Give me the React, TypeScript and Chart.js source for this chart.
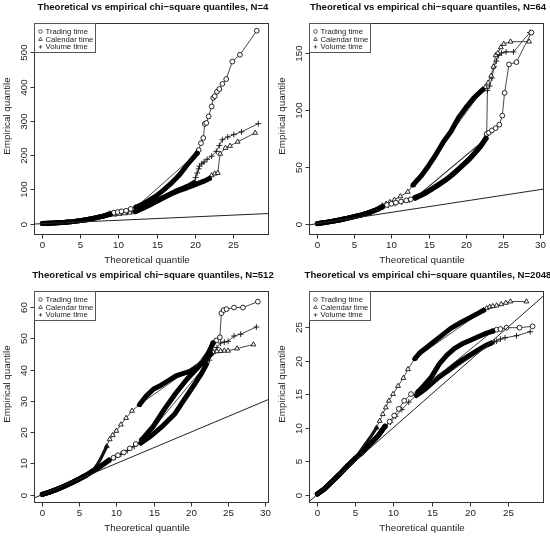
import React, { useEffect, useRef } from 'react';
import { Chart, registerables } from 'chart.js';

Chart.register(...registerables);

type Pt = [number, number];

const FONT = '"Liberation Sans", Arial, Helvetica, sans-serif';
const LEGEND_LABELS = ['Trading time', 'Calendar time', 'Volume time'];
const X_LABEL = 'Theoretical quantile';
const Y_LABEL = 'Empirical quantile';
const TITLE_PREFIX = 'Theoretical vs empirical chi\u2212square quantiles, N=';
const N_VALUES = [4, 64, 512, 2048];
const REF_LINE: Pt[] = [[-5, -5], [1000, 1000]];

// ---------- N = 4 ----------
const N4_X_RANGE: Pt = [-1.05, 29.7];
const N4_Y_RANGE: Pt = [-33, 585.6];
const N4_X_TICKS = [0, 5, 10, 15, 20, 25];
const N4_Y_TICKS = [0, 100, 200, 300, 400, 500];
const N4_BAND_A: Pt[] = [[0.05, 0.3], [1, 1.2], [2, 2.5], [3, 4], [4, 6], [5, 9], [6, 12.5], [7, 17], [8, 22], [8.9, 28]];
const N4_TRADING_BAND_B: Pt[] = [[12.3, 48], [13, 55], [14, 68], [15, 82], [16, 100], [17, 120], [18, 143], [19, 172], [19.8, 193], [20.3, 206]];
const N4_TRADING_MARKS: Pt[] = [[8.9, 30], [9.4, 32], [9.9, 34], [10.4, 36], [11.0, 38], [11.6, 43], [12.3, 48], [20.3, 206], [20.5, 215], [20.8, 235], [21.1, 250], [21.3, 291], [21.5, 294], [21.8, 313], [22.2, 342], [22.4, 367], [22.6, 372], [22.9, 385], [23.2, 393], [23.6, 408], [24.1, 422], [24.9, 473], [25.9, 493], [28.1, 563]];
const N4_CALENDAR_BAND_B: Pt[] = [[12.2, 35], [13.2, 45], [14.3, 57], [15.4, 70], [16.3, 80], [17.2, 90], [18, 97], [18.9, 104], [19.8, 112], [20.6, 119], [21.3, 125], [21.9, 132]];
const N4_CALENDAR_MARKS: Pt[] = [[8.9, 26], [9.5, 27], [10.1, 28.5], [10.8, 30], [11.5, 32], [12.2, 35], [21.9, 132], [22.2, 141], [22.6, 146], [23.0, 148], [23.3, 204], [24.0, 221], [24.6, 227], [25.6, 239], [27.9, 265]];
const N4_VOLUME_BAND_B: Pt[] = [[12.3, 38], [13.3, 47], [14.5, 60], [15.5, 72], [16.5, 84], [17.5, 95], [18.5, 104], [19.4, 113], [19.9, 120]];
const N4_VOLUME_MARKS: Pt[] = [[8.9, 27], [9.6, 28.5], [10.4, 31], [11.2, 33.5], [12.3, 38], [19.9, 120], [20.1, 135], [20.3, 148], [20.5, 160], [20.6, 168], [20.9, 175], [21.2, 180], [21.6, 188], [22.2, 197], [22.8, 211], [23.2, 228], [23.6, 245], [24.3, 253], [25.1, 260], [26.1, 268], [28.3, 292]];

// ---------- N = 64 ----------
const N64_X_RANGE: Pt = [-1.07, 30.5];
const N64_Y_RANGE: Pt = [-9.9, 176.4];
const N64_X_TICKS = [0, 5, 10, 15, 20, 25, 30];
const N64_Y_TICKS = [0, 50, 100, 150];
const N64_BAND_A: Pt[] = [[0.05, 0.1], [1, 1], [2, 2.1], [3, 3.3], [4, 4.7], [5, 6.2], [6, 7.8], [7, 9.8], [8, 12.3], [8.8, 15]];
const N64_CALENDAR_BAND_B: Pt[] = [[12.9, 34], [14, 42], [15, 51], [16, 61], [17, 72], [18, 81], [19, 93], [20, 102], [21, 110], [21.8, 115], [22.3, 118]];
const N64_CALENDAR_MARKS: Pt[] = [[8.8, 16], [9.3, 17.5], [9.8, 19], [10.4, 21], [11.2, 24], [12.2, 28], [12.9, 34], [22.3, 118], [22.6, 120], [23, 124], [23.4, 130], [23.7, 138], [24, 148], [24.3, 150], [24.7, 155], [25.1, 158], [26.0, 160], [28.5, 160]];
const N64_TRADING_BAND_B: Pt[] = [[13.2, 23], [14.2, 26], [15.2, 29.5], [16.2, 33.5], [17.2, 38], [18.2, 43], [19.2, 49], [20.2, 55], [21.2, 62], [22.0, 68], [22.7, 75]];
const N64_TRADING_MARKS: Pt[] = [[8.8, 15], [9.4, 16.5], [10, 17.5], [10.6, 18.5], [11.3, 19.5], [12.0, 20.5], [12.6, 21.5], [13.2, 23], [22.7, 75], [22.8, 79], [23.1, 80], [23.5, 82], [24.0, 84], [24.5, 87], [24.9, 95], [25.2, 115], [25.8, 140], [26.8, 142], [28.8, 168]];
const N64_VOLUME_BAND_B: Pt[] = [[13.2, 22.5], [14.5, 26.5], [16, 33], [17.5, 39.5], [19, 48], [20.5, 57], [21.7, 66], [22.6, 74]];
const N64_VOLUME_MARKS: Pt[] = [[8.8, 14.8], [9.6, 16.2], [10.5, 17.8], [11.4, 19.2], [12.4, 20.8], [13.2, 22.5], [22.6, 74], [22.8, 78], [22.9, 117], [23.2, 121], [23.5, 128], [23.8, 138], [24.1, 143], [24.4, 148], [24.8, 150], [25.4, 151], [26.4, 151], [28.6, 168]];

// ---------- N = 512 ----------
const N512_X_RANGE: Pt = [-1.07, 30.5];
const N512_Y_RANGE: Pt = [-2.65, 65.1];
const N512_X_TICKS = [0, 5, 10, 15, 20, 25, 30];
const N512_Y_TICKS = [0, 10, 20, 30, 40, 50, 60];
const N512_BAND_A: Pt[] = [[0.05, 0.1], [1, 0.8], [2, 1.7], [3, 2.7], [4, 3.8], [5, 5], [6, 6.3], [6.8, 7.5]];
const N512_CALENDAR_BAND_A2: Pt[] = [[6.8, 7.5], [7.4, 9.5], [8, 12], [8.7, 15.5]];
const N512_CALENDAR_BAND_B: Pt[] = [[13.1, 28.8], [14, 31.5], [15, 33.8], [16, 35], [17, 36.5], [18, 38], [19, 38.8], [20, 39.5], [21, 41], [22, 43], [22.7, 45]];
const N512_CALENDAR_MARKS: Pt[] = [[8.7, 15.5], [9.1, 17.7], [9.5, 19], [10, 20.4], [10.6, 22.4], [11.3, 24.5], [12.1, 26.8], [13.1, 28.8], [22.7, 45], [23.0, 45.5], [23.5, 45.8], [24.0, 45.9], [24.5, 46], [25.0, 46], [26.2, 46.7], [28.4, 48]];
const N512_LOWER_BAND_A2: Pt[] = [[6.8, 7.5], [7.5, 8.5], [8.3, 9.8], [9, 11]];
const N512_TRADING_BAND_B: Pt[] = [[13.4, 17.5], [15, 22], [16.5, 27.5], [18, 32.5], [19.5, 37], [20.5, 39.5], [21.5, 42], [22.3, 45], [23, 48.5]];
const N512_TRADING_MARKS: Pt[] = [[9, 11], [9.6, 11.8], [10.2, 12.6], [11, 13.5], [11.8, 14.8], [12.6, 16.2], [13.4, 17.5], [23, 48.5], [23.4, 49.3], [23.9, 50.3], [24.1, 58], [24.4, 59], [24.8, 59.3], [25.8, 59.8], [27, 59.8], [29, 61.7]];
const N512_VOLUME_BAND_B: Pt[] = [[13.3, 16.5], [14.5, 18.5], [16, 21.5], [17.8, 25.7], [19, 30], [20.5, 35.3], [21.5, 39], [22.1, 41.7]];
const N512_VOLUME_MARKS: Pt[] = [[9, 11], [9.8, 11.9], [10.6, 12.9], [11.5, 14.2], [12.4, 15.4], [13.3, 16.5], [22.1, 41.7], [22.5, 43], [23, 45.5], [23.5, 47], [24, 48.5], [24.5, 48.8], [25, 49], [25.8, 50.7], [26.7, 51.3], [28.8, 53.6]];

// ---------- N = 2048 ----------
const N2048_X_RANGE: Pt = [-1.05, 29.7];
const N2048_Y_RANGE: Pt = [-1.24, 30.37];
const N2048_X_TICKS = [0, 5, 10, 15, 20, 25];
const N2048_Y_TICKS = [0, 5, 10, 15, 20, 25];
const N2048_BAND_A: Pt[] = [[0.05, 0.1], [1, 0.9], [2, 2], [3, 3.1], [4, 4.3], [5, 5.4]];
const N2048_CALENDAR_BAND_A2: Pt[] = [[5, 5.4], [6, 7], [7, 8.6], [7.8, 10]];
const N2048_CALENDAR_BAND_B: Pt[] = [[12.8, 20.3], [13.5, 21.2], [14.5, 22.1], [15.5, 23], [16.5, 23.9], [17.5, 24.8], [18.7, 25.6], [20, 26.4], [21, 27], [21.8, 27.5]];
const N2048_CALENDAR_MARKS: Pt[] = [[7.8, 10], [8.2, 11], [8.6, 12], [9, 13], [9.4, 14], [9.95, 15], [10.6, 16.2], [11.3, 17.4], [11.9, 18.7], [12.8, 20.3], [21.8, 27.5], [22.2, 27.8], [22.6, 28], [23.0, 28.1], [23.5, 28.2], [24.1, 28.4], [24.7, 28.6], [25.3, 28.8], [27.4, 28.8]];
const N2048_LOWER_BAND_A2: Pt[] = [[5, 5.4], [6, 6.4], [7, 7.6], [8, 8.8], [8.9, 10.2]];
const N2048_TRADING_BAND_B: Pt[] = [[13.2, 15.3], [14, 16.3], [15, 17.6], [16, 19.5], [17, 20.8], [18, 21.8], [19, 22.5], [20, 23], [21, 23.5], [22, 24], [23, 24.4]];
const N2048_TRADING_MARKS: Pt[] = [[8.9, 10.2], [9.5, 10.9], [10.1, 11.8], [10.7, 12.8], [11.4, 14], [12.3, 15], [13.2, 15.3], [23, 24.4], [23.5, 24.6], [24, 24.7], [24.8, 24.9], [26.5, 24.9], [28.2, 25.1]];
const N2048_VOLUME_BAND_B: Pt[] = [[13, 14.8], [14, 15.6], [15, 16.6], [16, 17.6], [17, 18.4], [18, 19.3], [19, 20.1], [20, 20.8], [21, 21.5], [22, 22.2], [22.8, 22.6]];
const N2048_VOLUME_MARKS: Pt[] = [[8.9, 10.1], [9.6, 10.8], [10.3, 11.7], [11.1, 12.7], [12, 13.8], [13, 14.8], [22.8, 22.6], [23.2, 22.8], [23.5, 22.9], [24, 23.2], [24.6, 23.4], [26.1, 23.7], [27.9, 24.3]];

type Series = { bands: Pt[][]; thin?: Pt[][]; marks: Pt[] };
type PanelDef = {
  n: number;
  xRange: Pt;
  yRange: Pt;
  xTicks: number[];
  yTicks: number[];
  series: Series[]; // trading, calendar, volume
};

const PANELS: PanelDef[] = [
  {
    n: N_VALUES[0], xRange: N4_X_RANGE, yRange: N4_Y_RANGE, xTicks: N4_X_TICKS, yTicks: N4_Y_TICKS,
    series: [
      { bands: [N4_BAND_A, N4_TRADING_BAND_B], marks: N4_TRADING_MARKS },
      { bands: [N4_BAND_A, N4_CALENDAR_BAND_B], marks: N4_CALENDAR_MARKS },
      { bands: [N4_BAND_A, N4_VOLUME_BAND_B], marks: N4_VOLUME_MARKS },
    ],
  },
  {
    n: N_VALUES[1], xRange: N64_X_RANGE, yRange: N64_Y_RANGE, xTicks: N64_X_TICKS, yTicks: N64_Y_TICKS,
    series: [
      { bands: [N64_BAND_A, N64_TRADING_BAND_B], marks: N64_TRADING_MARKS },
      { bands: [N64_BAND_A, N64_CALENDAR_BAND_B], marks: N64_CALENDAR_MARKS },
      { bands: [N64_BAND_A, N64_VOLUME_BAND_B], marks: N64_VOLUME_MARKS },
    ],
  },
  {
    n: N_VALUES[2], xRange: N512_X_RANGE, yRange: N512_Y_RANGE, xTicks: N512_X_TICKS, yTicks: N512_Y_TICKS,
    series: [
      { bands: [N512_BAND_A, N512_LOWER_BAND_A2, N512_TRADING_BAND_B], marks: N512_TRADING_MARKS },
      { bands: [N512_BAND_A, N512_CALENDAR_BAND_B], thin: [N512_CALENDAR_BAND_A2], marks: N512_CALENDAR_MARKS },
      { bands: [N512_BAND_A, N512_LOWER_BAND_A2, N512_VOLUME_BAND_B], marks: N512_VOLUME_MARKS },
    ],
  },
  {
    n: N_VALUES[3], xRange: N2048_X_RANGE, yRange: N2048_Y_RANGE, xTicks: N2048_X_TICKS, yTicks: N2048_Y_TICKS,
    series: [
      { bands: [N2048_BAND_A, N2048_LOWER_BAND_A2, N2048_TRADING_BAND_B], marks: N2048_TRADING_MARKS },
      { bands: [N2048_BAND_A, N2048_CALENDAR_BAND_B], thin: [N2048_CALENDAR_BAND_A2], marks: N2048_CALENDAR_MARKS },
      { bands: [N2048_BAND_A, N2048_LOWER_BAND_A2, N2048_VOLUME_BAND_B], marks: N2048_VOLUME_MARKS },
    ],
  },
];

const POINT_STYLES = ['circle', 'triangle', 'cross'] as const;
const POINT_RADII = [2.4, 2.8, 2.9];

const toXY = (arr: Pt[]) => arr.map(([x, y]) => ({ x, y }));

function drawSymbol(ctx: CanvasRenderingContext2D, kind: number, x: number, y: number, r: number) {
  ctx.beginPath();
  if (kind === 0) {
    ctx.arc(x, y, r, 0, Math.PI * 2);
  } else if (kind === 1) {
    ctx.moveTo(x, y - r * 1.1);
    ctx.lineTo(x + r, y + r * 0.7);
    ctx.lineTo(x - r, y + r * 0.7);
    ctx.closePath();
  } else {
    ctx.moveTo(x - r, y); ctx.lineTo(x + r, y);
    ctx.moveTo(x, y - r); ctx.lineTo(x, y + r);
  }
  ctx.stroke();
}

function makeFrame(p: PanelDef) {
  return {
    id: 'rFrame',
    afterDraw(chart: any) {
      const ctx: CanvasRenderingContext2D = chart.ctx;
      const a = chart.chartArea;
      const xs = chart.scales.x;
      const ys = chart.scales.y;
      ctx.save();
      const L = Math.round(a.left) + 0.5;
      const T = Math.round(a.top) + 0.5;
      const R = Math.round(a.right) - 0.5;
      const B = Math.round(a.bottom) - 0.5;
      ctx.strokeStyle = '#333';
      ctx.lineWidth = 1;
      ctx.strokeRect(L, T, R - L, B - T);

      ctx.fillStyle = '#222';
      ctx.font = `9.8px ${FONT}`;
      ctx.textAlign = 'center';
      ctx.textBaseline = 'alphabetic';
      for (const t of p.xTicks) {
        const x = Math.round(xs.getPixelForValue(t)) + 0.5;
        ctx.beginPath(); ctx.moveTo(x, B); ctx.lineTo(x, B + 4); ctx.stroke();
        ctx.fillText(String(t), x, B + 13);
      }
      for (const t of p.yTicks) {
        const y = Math.round(ys.getPixelForValue(t)) + 0.5;
        ctx.beginPath(); ctx.moveTo(L - 4, y); ctx.lineTo(L, y); ctx.stroke();
        ctx.save();
        ctx.translate(L - 8, y);
        ctx.rotate(-Math.PI / 2);
        ctx.fillText(String(t), 0, 0);
        ctx.restore();
      }
      // axis titles
      ctx.fillText(X_LABEL, 147, 263);
      ctx.save();
      ctx.translate(9.5, 116);
      ctx.rotate(-Math.PI / 2);
      ctx.fillText(Y_LABEL, 0, 0);
      ctx.restore();
      // main title
      ctx.fillStyle = '#111';
      ctx.font = `bold 9.6px ${FONT}`;
      ctx.fillText(TITLE_PREFIX + p.n, 153, 9.5);

      // legend
      ctx.strokeStyle = '#555';
      ctx.strokeRect(L, T, 61, 29);
      ctx.font = `7.7px ${FONT}`;
      ctx.textAlign = 'left';
      ctx.textBaseline = 'middle';
      ctx.fillStyle = '#222';
      ctx.strokeStyle = '#333';
      ctx.lineWidth = 0.8;
      LEGEND_LABELS.forEach((lab, i) => {
        const cy = T + 8 + i * 7.7;
        drawSymbol(ctx, i, L + 6, cy, 1.8);
        ctx.fillText(lab, L + 11, cy + 0.3);
      });
      ctx.restore();
    },
  };
}

function Panel({ p }: { p: PanelDef }) {
  const ref = useRef<HTMLCanvasElement | null>(null);
  useEffect(() => {
    if (!ref.current) return;
    const datasets: any[] = [];
    datasets.push({
      data: toXY(REF_LINE), showLine: true, borderColor: '#222', borderWidth: 1,
      pointRadius: 0, clip: 0,
    });
    p.series.forEach((s, si) => {
      s.bands.forEach((b) => {
        datasets.push({
          data: toXY(b), showLine: true, borderColor: '#000', borderWidth: 5,
          borderCapStyle: 'round', borderJoinStyle: 'round', pointRadius: 0, clip: 0,
        });
      });
      (s.thin || []).forEach((b) => {
        datasets.push({
          data: toXY(b), showLine: true, borderColor: '#111', borderWidth: 3.2,
          borderCapStyle: 'round', borderJoinStyle: 'round', pointRadius: 0, clip: 0,
        });
      });
      datasets.push({
        data: toXY(s.marks), showLine: true, borderColor: '#333', borderWidth: 0.9,
        pointStyle: POINT_STYLES[si], pointRadius: POINT_RADII[si], pointBorderWidth: 0.9,
        pointBorderColor: '#111', pointBackgroundColor: '#fff', clip: 0,
      });
    });
    const chart = new Chart(ref.current, {
      type: 'scatter',
      data: { datasets },
      options: {
        animation: false,
        responsive: false,
        maintainAspectRatio: false,
        devicePixelRatio: 1,
        events: [],
        layout: { padding: { left: 34, top: 23, right: 6, bottom: 33 } },
        plugins: { legend: { display: false }, tooltip: { enabled: false }, title: { display: false } },
        scales: {
          x: { type: 'linear', display: false, min: p.xRange[0], max: p.xRange[1] },
          y: { type: 'linear', display: false, min: p.yRange[0], max: p.yRange[1] },
        },
      },
      plugins: [makeFrame(p)],
    } as any);
    return () => chart.destroy();
  }, [p]);
  return <canvas ref={ref} width={275} height={268} style={{ width: 275, height: 268, display: 'block' }} />;
}

export default function App() {
  return (
    <div
      style={{
        position: 'fixed', left: 0, top: 0, width: 550, height: 536, background: '#fff',
        display: 'grid', gridTemplateColumns: '275px 275px', gridTemplateRows: '268px 268px',
      }}
    >
      {PANELS.map((p) => (
        <Panel key={p.n} p={p} />
      ))}
    </div>
  );
}
